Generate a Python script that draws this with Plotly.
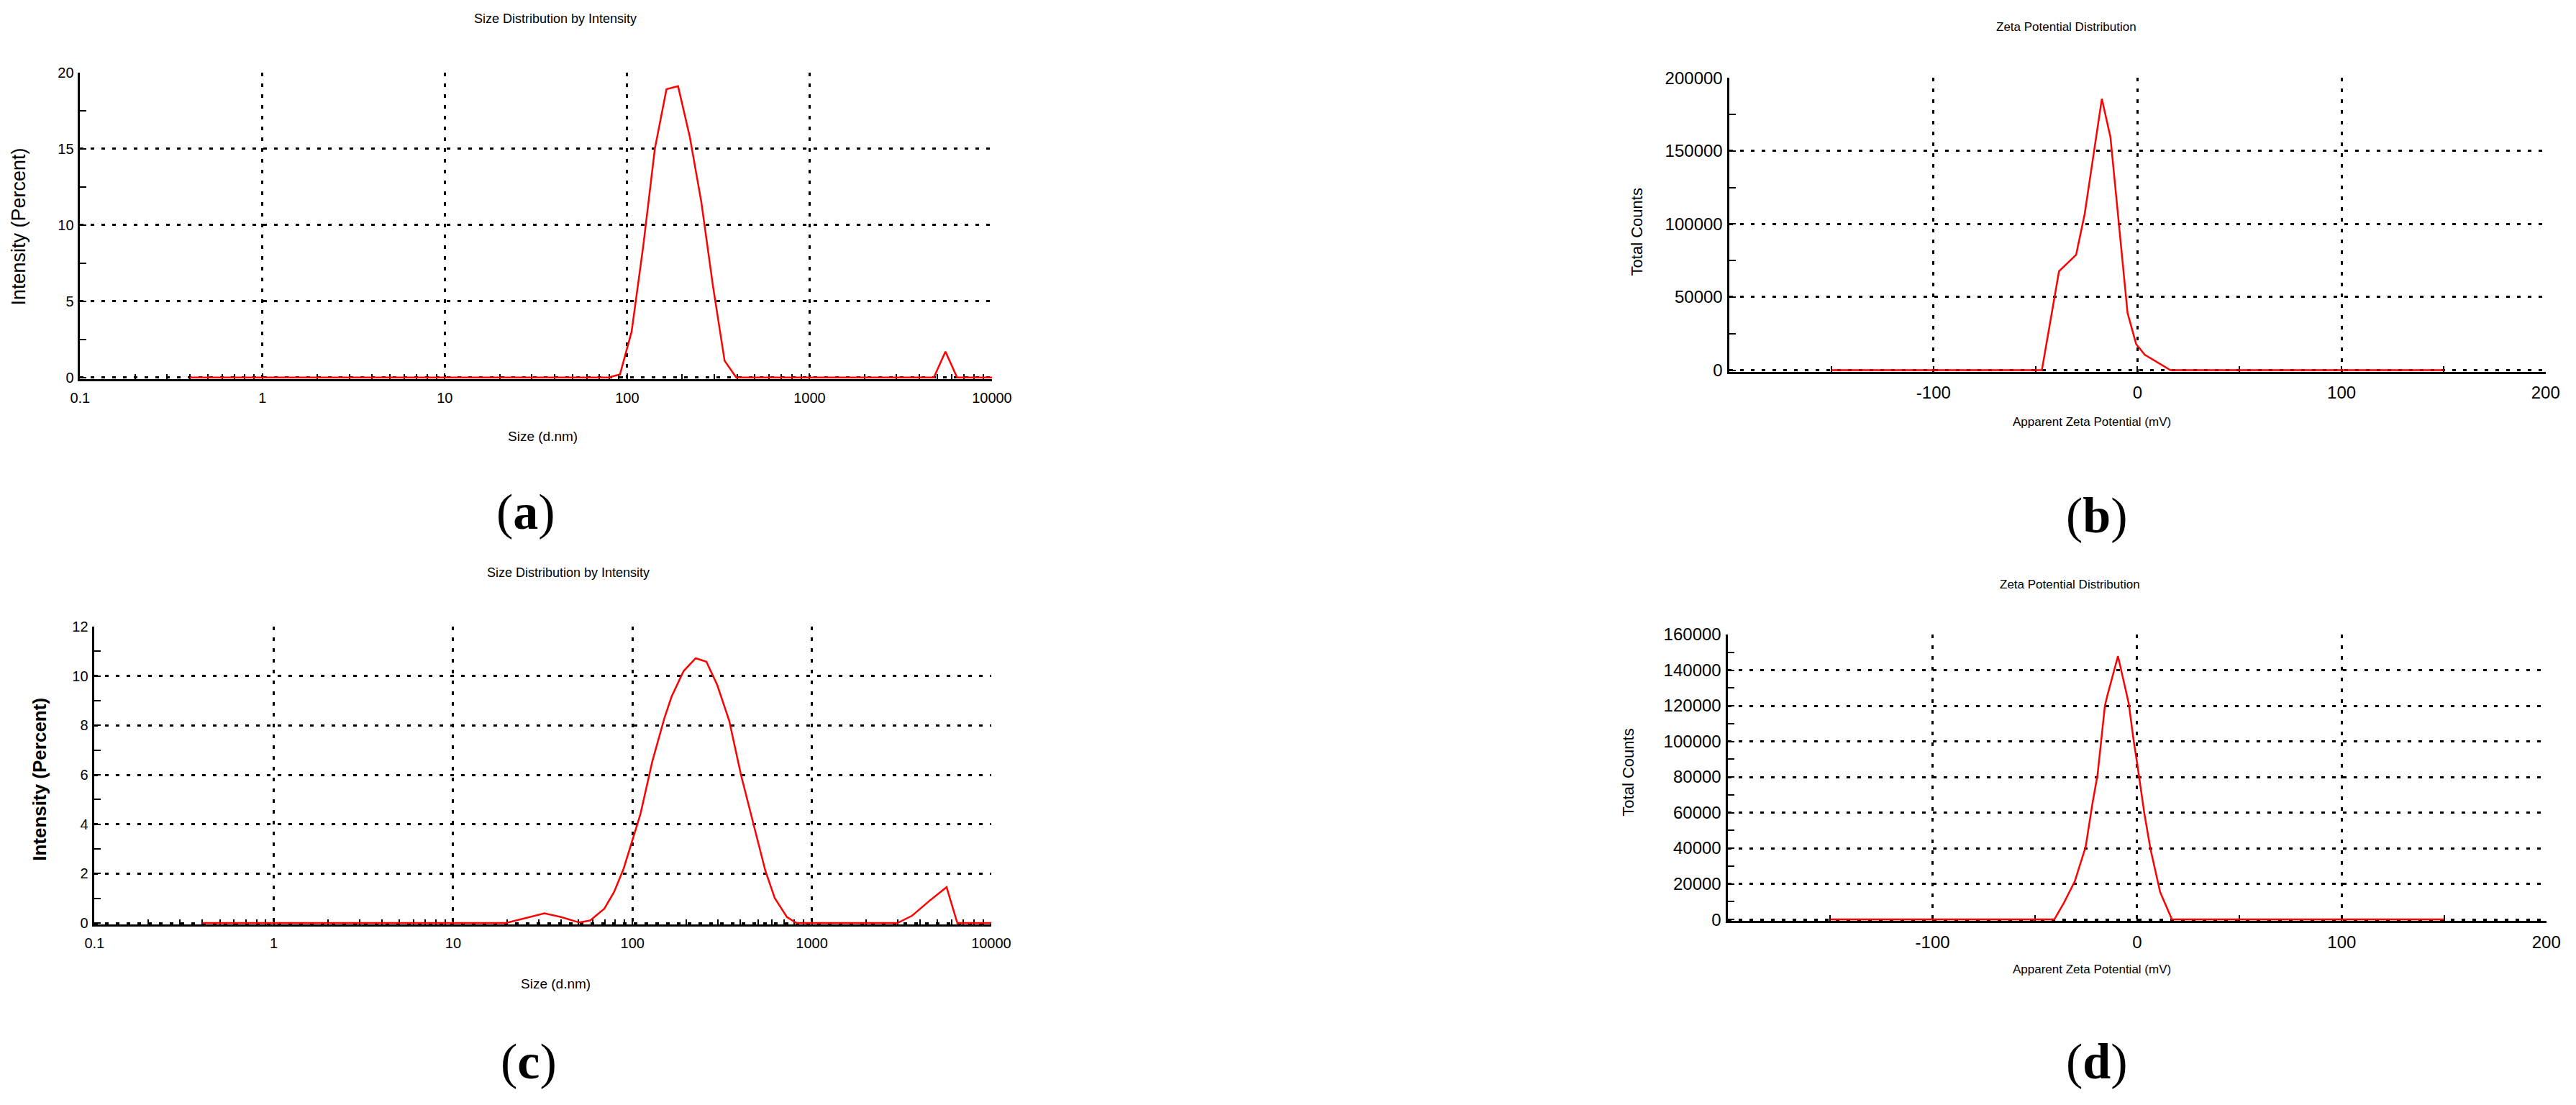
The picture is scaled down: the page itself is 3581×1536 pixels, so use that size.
import plotly.graph_objects as go

W, H = 3581, 1536

# ---- data ----
# (a) size distribution by intensity, sample 1
size_a = [0.4, 78.82, 91.28, 105.7, 122.4, 141.8, 164.2, 190.1, 220.2, 255.0,
          295.3, 342.0, 396.1, 4801, 5560, 6439, 10000]
intensity_a = [0, 0, 0.2, 3.0, 8.6, 15.0, 18.9, 19.1, 15.8, 11.5,
               6.0, 1.1, 0, 0, 1.7, 0, 0]

# (b) zeta potential distribution, sample 1
zeta_b = [-150, -46.9, -38.5, -30.1, -25.9, -21.7, -17.5, -13.3, -4.9, -0.7,
          3.5, 16.1, 150]
counts_b = [0, 0, 67600, 79000, 107000, 146000, 185700, 159600, 39100, 17900,
            10600, 0, 0]

# (c) size distribution by intensity, sample 2
size_c = [0.4, 19.7, 32.3, 40.0, 50.5, 58.0, 69.6, 78.8, 89.2, 101, 110.6, 129,
          150.6, 165, 192.7, 225, 258, 296.5, 346, 403, 471, 550, 621, 726,
          821, 3000, 3610, 4477, 5636, 6471, 10000]
intensity_c = [0, 0, 0.39, 0.24, 0.02, 0.1, 0.58, 1.25, 2.2, 3.47, 4.4, 6.55,
               8.3, 9.16, 10.2, 10.72, 10.58, 9.64, 8.19, 5.98, 4.05, 2.12,
               1.01, 0.24, 0, 0, 0.29, 0.87, 1.45, 0, 0]

# (d) zeta potential distribution, sample 2
zeta_d = [-150, -40.5, -35.8, -30.5, -25.2, -21.7, -19.4, -15.8, -14.7, -9.4,
          -4.1, -1.8, 0, 3.5, 6.5, 11.2, 17.0, 150]
counts_d = [0, 0, 9400, 21400, 40800, 66300, 81000, 119800, 125200, 147900,
            121100, 101000, 87600, 59500, 39500, 15400, 0, 0]

SIZE_TITLE = "Size Distribution by Intensity"
ZETA_TITLE = "Zeta Potential Distribution"
FONT = "Liberation Sans, Arial, sans-serif"
SERIF = "Liberation Serif, Times New Roman, serif"
TICK_A, TICK_B = 20, 24

# plot-area boxes in pixels of the target picture: left, right, top, bottom
boxes = {
    "a": (112, 1378, 100, 527),
    "b": (2402, 3535, 107.5, 516.7),
    "c": (132, 1377, 872, 1287),
    "d": (2400, 3536, 883, 1282),
}

# the page comes out slightly inset/shrunk; map target pixels back to paper
OFF_X, SC_X = 22.8, 0.987
OFF_Y, SC_Y = 21.0, 0.986


def px_x(x):
    return (x - OFF_X) / SC_X / W


def px_y(y):
    return 1 - (y - OFF_Y) / SC_Y / H


fig = go.Figure()

grid = dict(showgrid=True, gridcolor="black", gridwidth=2.5, griddash="5px,10px",
            showline=True, linecolor="black", linewidth=2.5, zeroline=False,
            layer="below traces", color="black")

panels = [
    ("a", size_a, intensity_a, "x", "y"),
    ("b", zeta_b, counts_b, "x2", "y2"),
    ("c", size_c, intensity_c, "x3", "y3"),
    ("d", zeta_d, counts_d, "x4", "y4"),
]
for key, xs, ys, xa, ya in panels:
    fig.add_trace(go.Scatter(x=xs, y=ys, mode="lines", xaxis=xa, yaxis=ya,
                             line=dict(color="#ff0000", width=2.5),
                             showlegend=False, hoverinfo="skip"))

layout = {}
for i, (key, _, _, _, _) in enumerate(panels):
    l, r, t, b = boxes[key]
    sfx = "" if i == 0 else str(i + 1)
    if key in ("a", "c"):
        xax = dict(type="log", range=[-1, 4], tickvals=[0.1, 1, 10, 100, 1000, 10000],
                   ticktext=["0.1", "1", "10", "100", "1000", "10000"],
                   minor=dict(ticks="inside", ticklen=7, tickwidth=2, tickcolor="black",
                              dtick="D1", showgrid=False),
                   tickfont=dict(family=FONT, size=TICK_A))
        if key == "a":
            yax = dict(range=[-0.1, 20], tickvals=[0, 5, 10, 15, 20],
                       minor=dict(ticks="inside", ticklen=9, tickwidth=2,
                                  tickcolor="black", dtick=2.5, tick0=0, showgrid=False))
        else:
            yax = dict(range=[-0.06, 12], tickvals=[0, 2, 4, 6, 8, 10, 12],
                       minor=dict(ticks="inside", ticklen=9, tickwidth=2,
                                  tickcolor="black", dtick=1, tick0=0, showgrid=False))
        yax.update(tickfont=dict(family=FONT, size=TICK_A))
    else:
        xax = dict(range=[-200, 200], tickvals=[-200, -100, 0, 100, 200],
                   ticktext=["", "-100", "0", "100", "200"],
                   minor=dict(ticks="inside", ticklen=8, tickwidth=2, tickcolor="black",
                              dtick=50, showgrid=False),
                   tickfont=dict(family=FONT, size=TICK_B))
        if key == "b":
            yax = dict(range=[-1000, 200000], tickvals=[0, 50000, 100000, 150000, 200000],
                       minor=dict(ticks="inside", ticklen=9, tickwidth=2,
                                  tickcolor="black", dtick=25000, tick0=0, showgrid=False))
        else:
            yax = dict(range=[-800, 160000], tickvals=list(range(0, 160001, 20000)),
                       minor=dict(ticks="inside", ticklen=9, tickwidth=2,
                                  tickcolor="black", dtick=10000, tick0=0, showgrid=False))
        yax.update(tickfont=dict(family=FONT, size=TICK_B), tickformat="d")
    xax.update(ticks="inside", ticklen=8, tickwidth=2)
    yax.update(ticks="inside", ticklen=9, tickwidth=2)
    xax.update(grid, domain=[px_x(l), px_x(r)], anchor="y" + sfx, ticklabelstandoff=6)
    yax.update(grid, domain=[px_y(b), px_y(t)], anchor="x" + sfx, ticklabelstandoff=2)
    layout["xaxis" + sfx] = xax
    layout["yaxis" + sfx] = yax

fig.update_layout(**layout)

ann = []


def text(x, y, s, size, angle=0, family=FONT):
    ann.append(dict(x=px_x(x), y=px_y(y), xref="paper", yref="paper", text=s,
                    showarrow=False, textangle=angle, xanchor="center",
                    yanchor="middle", font=dict(family=family, size=size, color="black")))


# panel titles
text(772, 25, SIZE_TITLE, 18)
text(2870, 37, ZETA_TITLE, 17)
text(790, 797, SIZE_TITLE, 18)
text(2875, 813, ZETA_TITLE, 17)
# x-axis titles
text(754, 607, "Size (d.nm)", 19)
text(2905, 587, "Apparent Zeta Potential (mV)", 17)
text(772, 1370, "Size (d.nm)", 19)
text(2905, 1350, "Apparent Zeta Potential (mV)", 17)
# y-axis titles
text(27, 315, "Intensity (Percent)", 27, -90)
text(2273, 322, "Total Counts", 22, -90)
text(55, 1085, "<b>Intensity (Percent)</b>", 26, -90)
text(2261, 1075, "Total Counts", 22, -90)
# panel labels
text(731, 712, "(<b>a</b>)", 70, family=SERIF)
text(2912, 717, "(<b>b</b>)", 70, family=SERIF)
text(735, 1478, "(<b>c</b>)", 70, family=SERIF)
text(2912, 1478, "(<b>d</b>)", 70, family=SERIF)

fig.update_layout(annotations=ann, width=W, height=H,
                  margin=dict(l=0, r=0, t=0, b=0),
                  paper_bgcolor="white", plot_bgcolor="white",
                  showlegend=False)

fig.write_html("out.html")
